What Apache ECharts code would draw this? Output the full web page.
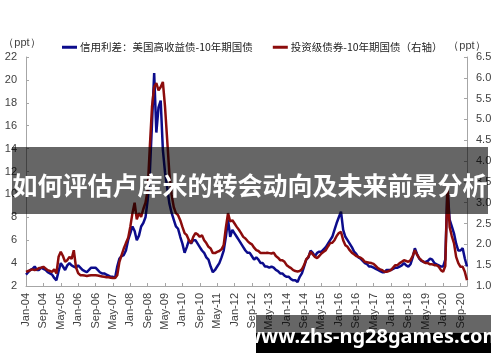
<!DOCTYPE html>
<html>
<head>
<meta charset="utf-8">
<script src="https://cdn.jsdelivr.net/npm/echarts@6/dist/echarts.min.js"></script>
<style>
html,body{margin:0;padding:0;background:#fff;}
#chart{width:500px;height:362px;}
</style>
</head>
<body>
<div id="chart"></div>
<script>
// Series names
var seriesNames = ['信用利差：美国高收益债-10年期国债', '投资级债券-10年期国债（右轴）'];

// Monthly categories Jan-04 ... Dec-20
var monthAbbr = ['Jan','Feb','Mar','Apr','May','Jun','Jul','Aug','Sep','Oct','Nov','Dec'];
var years = ['04','05','06','07','08','09','10','11','12','13','14','15','16','17','18','19','20'];
var categories = [];
years.forEach(function (y) { monthAbbr.forEach(function (m) { categories.push(m + '-' + y); }); });

// Left axis ticks (ppt)
var leftTicks = [2, 4, 6, 8, 10, 12, 14, 16, 18, 20, 22];
// Right axis ticks (ppt)
var rightTicks = [1.0, 1.5, 2.0, 2.5, 3.0, 3.5, 4.0, 4.5, 5.0, 5.5, 6.0, 6.5];

// High-yield spread (left axis), monthly 2004-2020
var hySpread = [
  3.0, 3.2, 3.4, 3.5, 3.7, 3.4, 3.4, 3.6, 3.5, 3.4, 3.2, 3.1,
  3.0, 2.7, 2.5, 3.3, 4.0, 3.7, 3.4, 3.8, 4.0, 3.8, 3.7, 3.6,
  3.8, 3.6, 3.4, 3.3, 3.2, 3.4, 3.6, 3.6, 3.6, 3.4, 3.2, 3.1,
  3.1, 3.0, 2.9, 2.8, 2.8, 2.7, 3.7, 4.4, 4.6, 4.7, 5.1, 6.0,
  6.6, 7.2, 6.8, 6.0, 6.4, 7.2, 7.5, 8.0, 9.5, 11.9, 16.2, 20.6,
  15.4, 17.6, 18.2, 13.9, 11.9, 10.6, 9.2, 8.4, 7.8, 7.2, 7.0, 6.3,
  5.7, 4.9, 5.4, 6.0, 5.7, 6.0, 6.0, 5.7, 5.4, 5.1, 4.9, 4.5,
  4.3, 3.7, 3.2, 3.4, 3.7, 4.0, 4.5, 5.1, 6.3, 7.8, 6.3, 6.9,
  6.6, 6.3, 6.0, 5.7, 5.4, 5.1, 4.9, 4.9, 4.6, 4.3, 4.5, 4.3,
  4.0, 4.0, 3.7, 3.7, 3.6, 3.7, 3.6, 3.4, 3.3, 3.1, 3.1, 2.9,
  2.8, 2.8, 2.6, 2.5, 2.5, 2.35, 2.8, 3.1, 3.7, 4.3, 4.5, 5.1,
  4.9, 4.6, 4.9, 5.0, 5.0, 5.2, 5.4, 5.7, 6.0, 6.3, 6.9, 7.5,
  8.0, 8.5, 6.9, 6.3, 6.0, 5.7, 5.4, 5.0, 4.8, 4.5, 4.4, 4.2,
  4.0, 3.9, 3.7, 3.7, 3.6, 3.5, 3.4, 3.3, 3.2, 3.2, 3.4, 3.4,
  3.4, 3.5, 3.6, 3.6, 3.7, 3.8, 4.0, 3.8, 3.7, 3.9, 4.5, 5.3,
  4.8, 4.4, 4.2, 4.1, 4.1, 4.2, 4.4, 4.3, 4.0, 3.9, 3.8, 3.7,
  3.7, 4.3, 10.6, 7.8, 7.2, 6.6, 5.7, 5.1, 5.1, 5.3, 4.4, 3.7
];

// Investment-grade spread (right axis), monthly 2004-2020
var igSpread = [
  1.34, 1.36, 1.38, 1.40, 1.38, 1.40, 1.43, 1.44, 1.46, 1.42, 1.38, 1.36,
  1.34, 1.40, 1.30, 1.70, 1.82, 1.72, 1.58, 1.62, 1.70, 1.65, 1.86, 1.45,
  1.31, 1.26, 1.26, 1.25, 1.24, 1.25, 1.26, 1.26, 1.26, 1.25, 1.24, 1.23,
  1.22, 1.21, 1.21, 1.20, 1.19, 1.19, 1.26, 1.58, 1.74, 1.90, 2.03, 2.15,
  2.42, 2.75, 3.00, 2.60, 2.75, 2.66, 2.85, 3.00, 3.30, 4.34, 5.30, 5.78,
  5.87, 5.70, 5.78, 5.90, 5.30, 4.50, 3.70, 3.20, 2.90, 2.75, 2.70, 2.58,
  2.42, 2.27, 2.22, 2.10, 2.03, 2.18, 2.27, 2.24, 2.18, 2.22, 2.10, 2.03,
  1.94, 1.90, 1.79, 1.79, 1.82, 1.84, 1.88, 1.98, 2.40, 2.75, 2.55, 2.58,
  2.50, 2.42, 2.35, 2.27, 2.18, 2.14, 2.08, 2.03, 2.00, 1.92, 1.86, 1.84,
  1.79, 1.79, 1.79, 1.80, 1.79, 1.78, 1.80, 1.72, 1.68, 1.62, 1.62, 1.58,
  1.50, 1.46, 1.43, 1.38, 1.36, 1.35, 1.36, 1.40, 1.50, 1.64, 1.70, 1.82,
  1.76, 1.70, 1.67, 1.72, 1.78, 1.82, 1.86, 1.95, 2.03, 2.04, 2.10, 2.20,
  2.27, 2.30, 2.10, 1.98, 1.94, 1.86, 1.80, 1.76, 1.72, 1.70, 1.68, 1.64,
  1.58, 1.57, 1.56, 1.55, 1.53, 1.48, 1.43, 1.40, 1.38, 1.34, 1.34, 1.36,
  1.38, 1.44, 1.50, 1.50, 1.55, 1.58, 1.62, 1.60, 1.58, 1.62, 1.72, 1.86,
  1.75, 1.67, 1.62, 1.58, 1.55, 1.55, 1.52, 1.52, 1.50, 1.50, 1.46, 1.38,
  1.34, 1.48, 3.40, 2.42, 2.20, 2.03, 1.70, 1.55, 1.46, 1.46, 1.34, 1.14
];

var bannerText = '如何评估卢库米的转会动向及未来前景分析';
var watermarkText = 'www.zhs-ng28games.com';

var chart = echarts.init(document.getElementById('chart'), null, {renderer: 'canvas'});
var axisColor = '#a6a6a6';
var labelColor = '#404040';
var fontFam = '"Liberation Sans", Arial, sans-serif';

var option = {
  animation: false,
  backgroundColor: '#ffffff',
  grid: {left: 26, right: 33, top: 57, bottom: 76, containLabel: false},
  legend: {
    data: seriesNames,
    left: 57, top: 37,
    icon: 'rect', itemWidth: 15, itemHeight: 3, itemGap: 20,
    textStyle: {fontFamily: '"Noto Sans CJK SC"', fontSize: 10.5, color: '#222', padding: [0, 0, 0, -2]}
  },
  xAxis: {
    type: 'category',
    data: categories,
    boundaryGap: false,
    axisLine: {lineStyle: {color: axisColor, width: 1}},
    axisTick: {inside: true, length: 3, interval: 7, lineStyle: {color: axisColor}},
    axisLabel: {interval: 7, rotate: 90, margin: 7, color: labelColor, fontSize: 11, fontFamily: fontFam},
    splitLine: {show: false}
  },
  yAxis: [
    {
      type: 'value', min: leftTicks[0], max: leftTicks[leftTicks.length - 1], interval: 2,
      name: '（ppt）', nameLocation: 'end', nameGap: 9,
      nameTextStyle: {color: labelColor, fontSize: 11, fontFamily: fontFam, padding: [0, 8, 0, 0]},
      axisLine: {show: true, lineStyle: {color: axisColor}},
      axisTick: {show: true, inside: true, length: 3, lineStyle: {color: axisColor}},
      axisLabel: {margin: 9, color: labelColor, fontSize: 11, fontFamily: fontFam},
      splitLine: {show: false}
    },
    {
      type: 'value', min: rightTicks[0], max: rightTicks[rightTicks.length - 1], interval: 0.5,
      name: '（ppt）', nameLocation: 'end', nameGap: 6,
      nameTextStyle: {color: labelColor, fontSize: 11, fontFamily: fontFam},
      position: 'right',
      axisLine: {show: true, lineStyle: {color: axisColor}},
      axisTick: {show: true, inside: true, length: 3, lineStyle: {color: axisColor}},
      axisLabel: {margin: 9, color: labelColor, fontSize: 11, fontFamily: fontFam,
        formatter: function (v) { return v.toFixed(1); }},
      splitLine: {show: false}
    }
  ],
  series: [
    {
      name: seriesNames[0], type: 'line', yAxisIndex: 0, data: hySpread,
      showSymbol: false, symbol: 'none',
      lineStyle: {color: '#0c0c8c', width: 2.5}, itemStyle: {color: '#0c0c8c'}, z: 2
    },
    {
      name: seriesNames[1], type: 'line', yAxisIndex: 1, data: igSpread,
      showSymbol: false, symbol: 'none',
      lineStyle: {color: '#8c0c0c', width: 2.5}, itemStyle: {color: '#8c0c0c'}, z: 3
    }
  ],
  graphic: [
    {type: 'rect', z: 100, shape: {x: 12, y: 147, width: 476, height: 67}, style: {fill: 'rgba(0,0,0,0.6)'}},
    {type: 'text', z: 101, x: 250, y: 185,
      style: {text: bannerText, fill: '#ffffff', fontSize: 25, fontWeight: 'bold', fontFamily: '"Noto Sans CJK SC"',
        align: 'center', verticalAlign: 'middle', textAlign: 'center', textVerticalAlign: 'middle'}},
    {type: 'rect', z: 100, shape: {x: 256, y: 315, width: 235, height: 38}, style: {fill: 'rgba(0,0,0,0.6)'}},
    {type: 'rect', z: 100, shape: {x: 256, y: 333, width: 235, height: 20}, style: {fill: '#000000'}},
    {type: 'text', z: 101, x: 373, y: 337,
      style: {text: watermarkText, fill: '#ffffff', fontSize: 20, fontWeight: 'bold', fontFamily: '"Noto Sans", "Open Sans", sans-serif',
        align: 'center', verticalAlign: 'middle', textAlign: 'center', textVerticalAlign: 'middle'}}
  ]
};
chart.setOption(option);
</script>
</body>
</html>
